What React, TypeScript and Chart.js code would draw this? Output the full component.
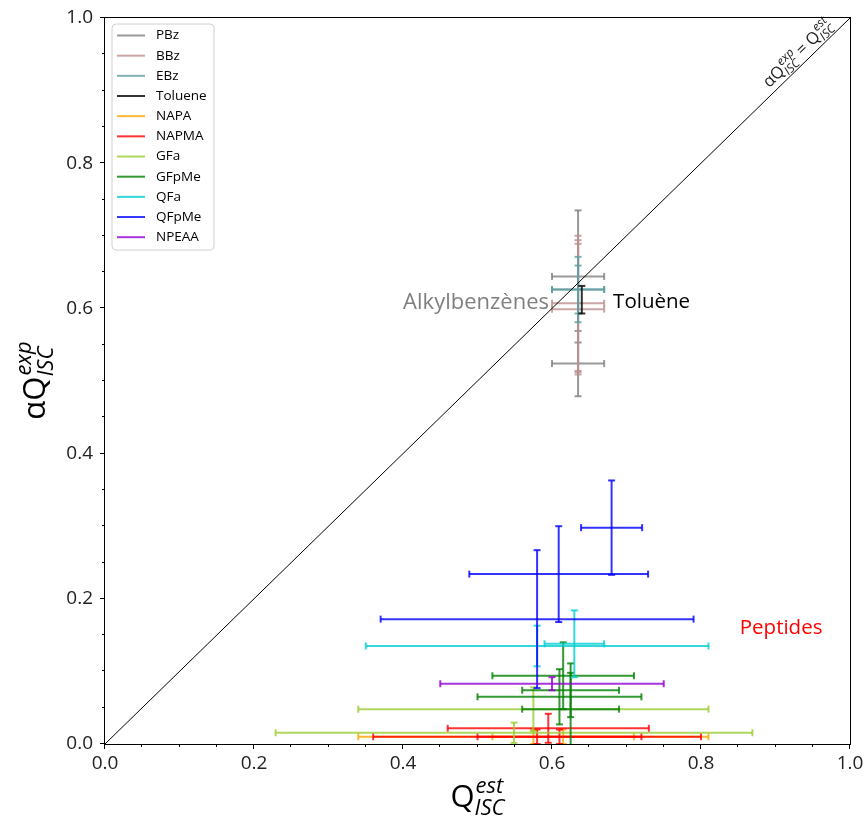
import React, { useEffect, useRef } from 'react';
import { Chart, registerables } from 'chart.js';

Chart.register(...registerables);

// ---- data ----
const seriesNames = ['PBz', 'BBz', 'EBz', 'Toluene', 'NAPA', 'NAPMA', 'GFa', 'GFpMe', 'QFa', 'QFpMe', 'NPEAA'];
const seriesColors = [
  'rgba(128,128,128,0.8)',
  'rgba(188,143,143,0.8)',
  'rgba(95,158,160,0.8)',
  'rgba(0,0,0,0.8)',
  'rgba(255,165,0,0.8)',
  'rgba(255,0,0,0.8)',
  'rgba(154,205,50,0.8)',
  'rgba(0,128,0,0.8)',
  'rgba(0,206,209,0.8)',
  'rgba(0,0,255,0.8)',
  'rgba(148,0,211,0.8)',
];

const pbzX = [0.635, 0.635];
const pbzY = [0.644, 0.524];
const pbzXErr = [0.035, 0.035];
const pbzYErr = [0.091, 0.045];

const bbzX = [0.635, 0.635, 0.635];
const bbzY = [0.607, 0.599, 0.603];
const bbzXErr = [0.035, 0.035, 0];
const bbzYErr = [0.093, 0.09, 0.091];

const ebzX = [0.635, 0.635];
const ebzY = [0.626, 0.626];
const ebzXErr = [0.035, 0.035];
const ebzYErr = [0.045, 0.033];

const tolX = [0.64];
const tolY = [0.612];
const tolXErr = [0];
const tolYErr = [0.019];

const napaX = [0.575, 0.615];
const napaY = [0.01, 0.01];
const napaXErr = [0.235, 0.095];
const napaYErr = [0.01, 0.01];

const napmaX = [0.595, 0.58, 0.61];
const napmaY = [0.0216, 0.01, 0.01];
const napmaXErr = [0.135, 0.22, 0.11];
const napmaYErr = [0.02, 0.01, 0.01];

const gfaX = [0.575, 0.549];
const gfaY = [0.048, 0.0155];
const gfaXErr = [0.235, 0.32];
const gfaYErr = [0.03, 0.014];

const gfpmeX = [0.615, 0.625, 0.61, 0.625];
const gfpmeY = [0.094, 0.074, 0.065, 0.048];
const gfpmeXErr = [0.095, 0.065, 0.11, 0.065];
const gfpmeYErr = [0.046, 0.037, 0.038, 0.05];

const qfaX = [0.58, 0.63];
const qfaY = [0.135, 0.138];
const qfaXErr = [0.23, 0.04];
const qfaYErr = [0.028, 0.046];

const qfpmeX = [0.68, 0.609, 0.58];
const qfpmeY = [0.298, 0.234, 0.172];
const qfpmeXErr = [0.041, 0.12, 0.21];
const qfpmeYErr = [0.065, 0.066, 0.095];

const npeaaX = [0.6];
const npeaaY = [0.083];
const npeaaXErr = [0.15];
const npeaaYErr = [0.009];

const allX = [pbzX, bbzX, ebzX, tolX, napaX, napmaX, gfaX, gfpmeX, qfaX, qfpmeX, npeaaX];
const allY = [pbzY, bbzY, ebzY, tolY, napaY, napmaY, gfaY, gfpmeY, qfaY, qfpmeY, npeaaY];
const allXErr = [pbzXErr, bbzXErr, ebzXErr, tolXErr, napaXErr, napmaXErr, gfaXErr, gfpmeXErr, qfaXErr, qfpmeXErr, npeaaXErr];
const allYErr = [pbzYErr, bbzYErr, ebzYErr, tolYErr, napaYErr, napmaYErr, gfaYErr, gfpmeYErr, qfaYErr, qfpmeYErr, npeaaYErr];

const diagX = [0, 1];
const diagY = [0, 1];

const FONT = '"Open Sans", "DejaVu Sans", sans-serif';

type Seg = { base: string; sup?: string; sub?: string };

function segWidth(ctx: CanvasRenderingContext2D, s: Seg, F: number, S: number) {
  ctx.font = `${F}px ${FONT}`;
  let w = ctx.measureText(s.base).width;
  ctx.font = `italic ${S}px ${FONT}`;
  const a = s.sup ? ctx.measureText(s.sup).width : 0;
  const b = s.sub ? ctx.measureText(s.sub).width : 0;
  return w + Math.max(a, b);
}

function drawMath(ctx: CanvasRenderingContext2D, segs: Seg[], cx: number, baseline: number, F: number, S: number, color: string) {
  const total = segs.reduce((acc, s) => acc + segWidth(ctx, s, F, S), 0);
  let x = cx - total / 2;
  ctx.fillStyle = color;
  ctx.textBaseline = 'alphabetic';
  ctx.textAlign = 'left';
  for (const s of segs) {
    ctx.font = `${F}px ${FONT}`;
    ctx.fillText(s.base, x, baseline);
    x += ctx.measureText(s.base).width;
    ctx.font = `italic ${S}px ${FONT}`;
    let w = 0;
    if (s.sup) {
      ctx.fillText(s.sup, x + 1, baseline - F * 0.45);
      w = Math.max(w, ctx.measureText(s.sup).width);
    }
    if (s.sub) {
      ctx.fillText(s.sub, x, baseline + F * 0.27);
      w = Math.max(w, ctx.measureText(s.sub).width);
    }
    x += w;
  }
}

const isMajor = (v: number) => Math.abs(v * 5 - Math.round(v * 5)) < 1e-6;

const errorBarPlugin = {
  id: 'errorBars',
  beforeDatasetsDraw(chart: any) {
    const { ctx, chartArea } = chart;
    const xs = chart.scales.x;
    const ys = chart.scales.y;
    ctx.save();
    ctx.beginPath();
    ctx.rect(chartArea.left, chartArea.top, chartArea.right - chartArea.left, chartArea.bottom - chartArea.top);
    ctx.clip();
    ctx.lineWidth = 2;
    ctx.lineCap = 'butt';
    const cap = 3.5;
    chart.data.datasets.forEach((ds: any) => {
      if (!ds.errorBars) return;
      ctx.strokeStyle = ds.borderColor;
      ds.data.forEach((p: any) => {
        const px = xs.getPixelForValue(p.x);
        const py = ys.getPixelForValue(p.y);
        if (p.xerr > 0) {
          const x0 = xs.getPixelForValue(p.x - p.xerr);
          const x1 = xs.getPixelForValue(p.x + p.xerr);
          ctx.beginPath();
          ctx.moveTo(x0, py);
          ctx.lineTo(x1, py);
          ctx.stroke();
          ctx.beginPath();
          ctx.moveTo(x0, py - cap);
          ctx.lineTo(x0, py + cap);
          ctx.stroke();
          ctx.beginPath();
          ctx.moveTo(x1, py - cap);
          ctx.lineTo(x1, py + cap);
          ctx.stroke();
        }
        if (p.yerr > 0) {
          const y0 = ys.getPixelForValue(p.y - p.yerr);
          const y1 = ys.getPixelForValue(p.y + p.yerr);
          ctx.beginPath();
          ctx.moveTo(px, y0);
          ctx.lineTo(px, y1);
          ctx.stroke();
          ctx.beginPath();
          ctx.moveTo(px - cap, y0);
          ctx.lineTo(px + cap, y0);
          ctx.stroke();
          ctx.beginPath();
          ctx.moveTo(px - cap, y1);
          ctx.lineTo(px + cap, y1);
          ctx.stroke();
        }
      });
    });
    ctx.restore();
  },
};

const decorPlugin = {
  id: 'decor',
  afterDraw(chart: any) {
    const { ctx, chartArea } = chart;
    const xs = chart.scales.x;
    const ys = chart.scales.y;
    const { left, right, top, bottom } = chartArea;
    ctx.save();

    // annotations
    ctx.textBaseline = 'middle';
    ctx.font = `22px ${FONT}`;
    ctx.fillStyle = '#808080';
    ctx.textAlign = 'right';
    ctx.fillText('Alkylbenzènes', xs.getPixelForValue(0.596), ys.getPixelForValue(0.608));
    ctx.font = `20.5px ${FONT}`;
    ctx.fillStyle = '#000';
    ctx.textAlign = 'left';
    ctx.fillText('Toluène', xs.getPixelForValue(0.682), ys.getPixelForValue(0.608));
    ctx.fillStyle = '#ff0000';
    ctx.fillText('Peptides', xs.getPixelForValue(0.852), ys.getPixelForValue(0.159));

    // diagonal label
    const dx = xs.getPixelForValue(0.94);
    const dy = ys.getPixelForValue(0.94);
    const ang = Math.atan2(ys.getPixelForValue(1) - ys.getPixelForValue(0), xs.getPixelForValue(1) - xs.getPixelForValue(0));
    ctx.save();
    ctx.translate(dx, dy);
    ctx.rotate(ang);
    drawMath(ctx, [{ base: 'αQ', sup: 'exp', sub: 'ISC' }, { base: ' = ' }, { base: 'Q', sup: 'est', sub: 'ISC' }], 0, -6, 16.5, 12, '#222');
    ctx.restore();

    // frame
    ctx.strokeStyle = '#000';
    ctx.lineWidth = 1;
    ctx.strokeRect(Math.round(left) - 0.5, Math.round(top) - 0.5, Math.round(right - left) + 1, Math.round(bottom - top) + 1);

    // ticks
    ctx.beginPath();
    xs.ticks.forEach((t: any) => {
      const p = Math.round(xs.getPixelForValue(t.value)) - 0.5;
      const len = isMajor(t.value) ? 5 : 3;
      ctx.moveTo(p, bottom);
      ctx.lineTo(p, bottom + len);
    });
    ys.ticks.forEach((t: any) => {
      const p = Math.round(ys.getPixelForValue(t.value)) - 0.5;
      const len = isMajor(t.value) ? 5 : 3;
      ctx.moveTo(left, p);
      ctx.lineTo(left - len, p);
    });
    ctx.stroke();

    // axis titles
    drawMath(ctx, [{ base: 'Q', sup: 'est', sub: 'ISC' }], (left + right) / 2, 807, 31, 22, '#000');
    ctx.save();
    ctx.translate(45, (top + bottom) / 2);
    ctx.rotate(-Math.PI / 2);
    drawMath(ctx, [{ base: 'αQ', sup: 'exp', sub: 'ISC' }], 0, 0, 31, 22, '#000');
    ctx.restore();

    // legend
    const lx = left + 7;
    const ly = top + 6;
    const lw = 102;
    const lh = 226;
    ctx.beginPath();
    const r = 4;
    ctx.moveTo(lx + r, ly);
    ctx.arcTo(lx + lw, ly, lx + lw, ly + lh, r);
    ctx.arcTo(lx + lw, ly + lh, lx, ly + lh, r);
    ctx.arcTo(lx, ly + lh, lx, ly, r);
    ctx.arcTo(lx, ly, lx + lw, ly, r);
    ctx.closePath();
    ctx.fillStyle = 'rgba(255,255,255,0.8)';
    ctx.fill();
    ctx.strokeStyle = '#d0d0d0';
    ctx.lineWidth = 1;
    ctx.stroke();
    ctx.font = `13.5px ${FONT}`;
    ctx.textAlign = 'left';
    ctx.textBaseline = 'middle';
    chart.data.datasets.forEach((ds: any, i: number) => {
      if (!ds.errorBars) return;
      const yy = ly + 11.5 + i * 20.17;
      ctx.strokeStyle = ds.borderColor;
      ctx.lineWidth = 2;
      ctx.beginPath();
      ctx.moveTo(lx + 5, yy);
      ctx.lineTo(lx + 33, yy);
      ctx.stroke();
      ctx.fillStyle = '#000';
      ctx.fillText(ds.label, lx + 44, yy);
    });

    ctx.restore();
  },
};

function zeroPadding(s: any) {
  s.paddingTop = 0;
  s.paddingBottom = 0;
  s.paddingLeft = 0;
  s.paddingRight = 0;
}

export default function App() {
  const ref = useRef<HTMLCanvasElement>(null);
  useEffect(() => {
    document.body.style.margin = '0';
    const canvas = ref.current;
    if (!canvas) return;
    const datasets: any[] = seriesNames.map((name, i) => ({
      type: 'scatter',
      label: name,
      errorBars: true,
      data: allX[i].map((x, j) => ({ x, y: allY[i][j], xerr: allXErr[i][j], yerr: allYErr[i][j] })),
      borderColor: seriesColors[i],
      backgroundColor: seriesColors[i],
      pointRadius: 0,
      pointHoverRadius: 0,
      showLine: false,
    }));
    datasets.push({
      type: 'scatter',
      label: 'diag',
      data: diagX.map((x, i) => ({ x, y: diagY[i] })),
      borderColor: '#000',
      borderWidth: 1,
      pointRadius: 0,
      showLine: true,
      clip: 0,
    });
    const tickFont = { family: FONT, size: 19 };
    const chart = new Chart(canvas, {
      type: 'scatter',
      data: { datasets },
      options: {
        responsive: false,
        animation: false,
        devicePixelRatio: 1,
        layout: { autoPadding: false, padding: { top: 18, right: 18, left: 0, bottom: 0 } },
        plugins: { legend: { display: false }, tooltip: { enabled: false } },
        scales: {
          x: {
            type: 'linear',
            min: 0,
            max: 1,
            grid: { display: false, drawTicks: false },
            border: { display: false },
            ticks: {
              stepSize: 0.05,
              autoSkip: false,
              maxRotation: 0,
              padding: 8,
              color: '#222',
              font: tickFont,
              callback: (v: any) => (isMajor(Number(v)) ? Number(v).toFixed(1) : ''),
            },
            afterFit: (s: any) => { s.height = 76; zeroPadding(s); },
          },
          y: {
            type: 'linear',
            min: 0,
            max: 1,
            grid: { display: false, drawTicks: false },
            border: { display: false },
            ticks: {
              stepSize: 0.05,
              autoSkip: false,
              padding: 12,
              color: '#222',
              font: tickFont,
              callback: (v: any) => (isMajor(Number(v)) ? Number(v).toFixed(1) : ''),
            },
            afterFit: (s: any) => { s.width = 105; zeroPadding(s); },
          },
        },
      } as any,
      plugins: [errorBarPlugin, decorPlugin],
    });
    return () => chart.destroy();
  }, []);
  return <canvas ref={ref} width={868} height={820} style={{ display: 'block' }} />;
}
